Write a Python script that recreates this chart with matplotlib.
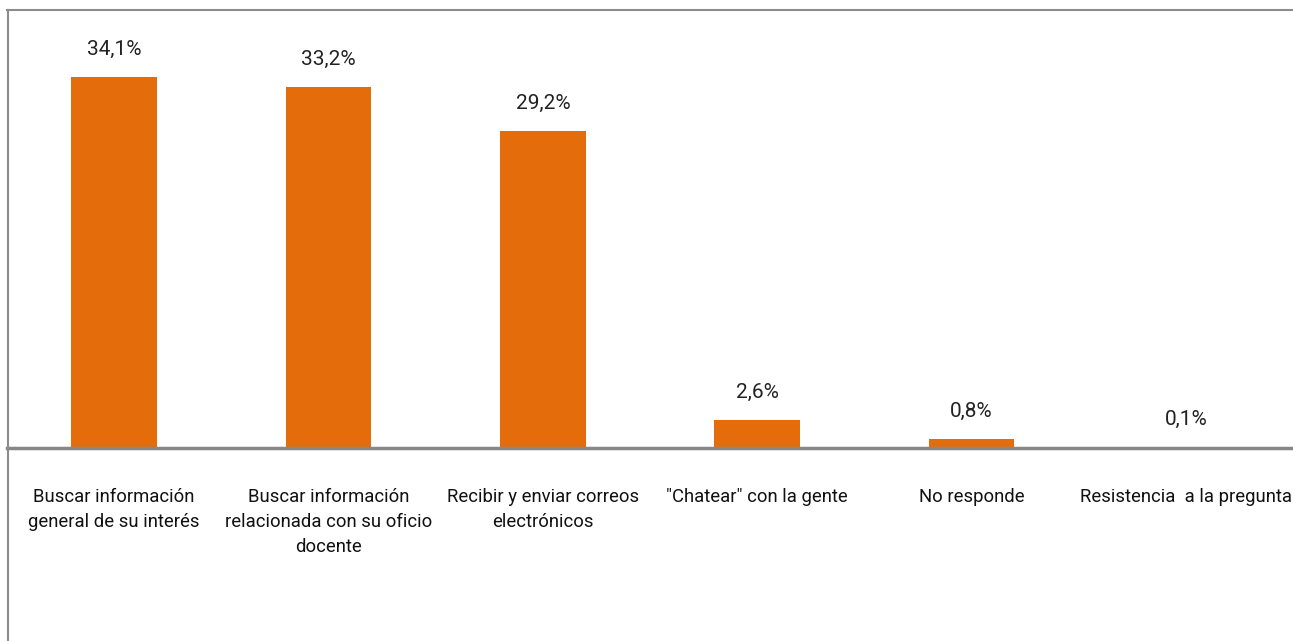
import matplotlib
matplotlib.use('Agg')
import matplotlib.pyplot as plt
from matplotlib.lines import Line2D
import numpy as np

# categories and percentages
categories = [
    'Buscar información\ngeneral de su interés',
    'Buscar información\nrelacionada con su oficio\ndocente',
    'Recibir y enviar correos\nelectrónicos',
    '"Chatear" con la gente',
    'No responde',
    'Resistencia  a la pregunta',
]
values = [34.1, 33.2, 29.2, 2.6, 0.8, 0.1]
value_labels = ['34,1%', '33,2%', '29,2%', '2,6%', '0,8%', '0,1%']

plt.rcParams['font.family'] = ['Roboto', 'DejaVu Sans']

W, H = 1293, 641
fig = plt.figure(figsize=(W / 100, H / 100), dpi=100)
ax = fig.add_axes([7 / W, (H - 448) / H, (W - 7) / W, (448 - 10) / H])

x = np.arange(len(categories))
ax.bar(x, values, width=0.4, color='#E46C0A', zorder=2)
ax.set_xlim(-0.5, len(categories) - 0.5)
ax.set_ylim(0, 40.3)

for xi, v, lab in zip(x, values, value_labels):
    ax.annotate(lab, (xi, v), xytext=(0, 13), textcoords='offset points',
                ha='center', va='bottom', fontsize=15, color='#222222')

ax.set_xticks(x)
ax.set_xticklabels(categories, fontsize=13.3, color='#111111', linespacing=1.48)
ax.tick_params(axis='x', length=0, pad=29)
ax.set_yticks([])

for s in ['left', 'right']:
    ax.spines[s].set_visible(False)
ax.spines['top'].set_color('#8c8c8c')
ax.spines['top'].set_linewidth(1.5)
ax.spines['bottom'].set_color('#878787')
ax.spines['bottom'].set_linewidth(2.5)
ax.spines['bottom'].set_zorder(3)

# outer chart frame, left side runs to the image bottom
fig.add_artist(Line2D([8 / W, 8 / W], [0, (H - 10) / H], color='#8c8c8c', lw=1.5))

fig.savefig('out.png', dpi=100)
plt.close(fig)
